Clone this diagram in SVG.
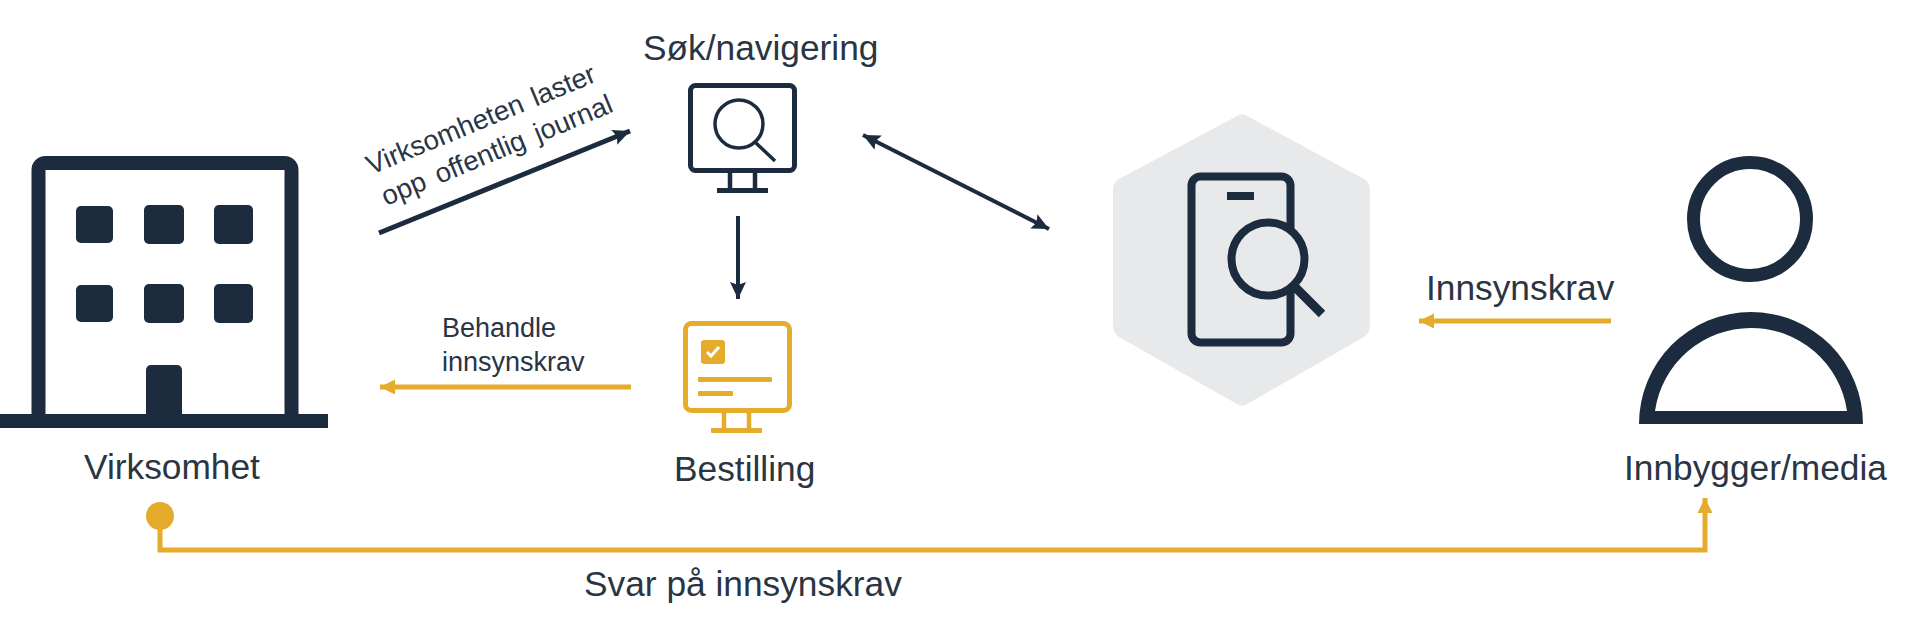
<svg xmlns="http://www.w3.org/2000/svg" width="1920" height="626" viewBox="0 0 1920 626">
<style>
text{font-family:"Liberation Sans",Arial,sans-serif;fill:#2a3544}
.l{font-size:35.300px}.m{font-size:27.500px}.r{font-size:27px}
.d{fill:#1c2b3e}.y{fill:#e5ab2a}
.ds{fill:none;stroke:#1c2b3e}.ys{fill:none;stroke:#e5ab2a}
</style>
<defs>
<marker id="ad" markerUnits="userSpaceOnUse" markerWidth="20" markerHeight="20" refX="17" refY="10" orient="auto-start-reverse" viewBox="0 0 20 20"><path d="M0,2 L17,10 L0,18 L3,10Z" fill="#1c2b3e"/></marker>
<marker id="ay" markerUnits="userSpaceOnUse" markerWidth="20" markerHeight="20" refX="17" refY="10" orient="auto" viewBox="0 0 20 20"><path d="M2,2.500 L17,10 L2,17.500Z" fill="#e5ab2a"/></marker>
</defs>
<rect width="1920" height="626" fill="#fff"/>
<g id="connectors">
<line class="ds" x1="379" y1="233" x2="630" y2="131" stroke-width="5" marker-end="url(#ad)"/>
<line class="ds" x1="738" y1="216" x2="738" y2="299" stroke-width="4" marker-end="url(#ad)"/>
<line class="ds" x1="863" y1="135" x2="1049" y2="229" stroke-width="4" marker-start="url(#ad)" marker-end="url(#ad)"/>
<line class="ys" x1="631" y1="387" x2="380" y2="387" stroke-width="5" marker-end="url(#ay)"/>
<line class="ys" x1="1611" y1="321" x2="1419" y2="321" stroke-width="5" marker-end="url(#ay)"/>
<circle class="y" cx="160" cy="516" r="14"/>
<path class="ys" d="M160,516V550H1705V498" stroke-width="5" marker-end="url(#ay)"/>
<text class="m" transform="translate(371,175) rotate(-22.500)" word-spacing="3">Virksomheten  laster</text>
<text class="m" transform="translate(386,206) rotate(-22.500)" word-spacing="4">opp offentlig journal</text>
<text class="r" x="442" y="337">Behandle</text>
<text class="r" x="442" y="371">innsynskrav</text>
<text class="l" x="1426" y="300">Innsynskrav</text>
<text class="l" x="584" y="596">Svar på innsynskrav</text>
</g>
<g id="virksomhet">
<path class="ds" d="M38.500,420V170a7,7 0 0 1 7,-7H284.500a7,7 0 0 1 7,7V420" stroke-width="14"/>
<rect class="d" x="0" y="414" width="328" height="14"/>
<rect class="d" x="76" y="206" width="37" height="37" rx="5"/>
<rect class="d" x="144" y="205" width="40" height="39" rx="5"/>
<rect class="d" x="214" y="205" width="39" height="39" rx="5"/>
<rect class="d" x="76" y="285" width="37" height="37" rx="5"/>
<rect class="d" x="144" y="284" width="40" height="39" rx="5"/>
<rect class="d" x="214" y="284" width="39" height="39" rx="5"/>
<path class="d" d="M146,416V370a5,5 0 0 1 5,-5H177a5,5 0 0 1 5,5V416Z"/>
<text class="l" x="84" y="479">Virksomhet</text>
</g>
<g id="sok">
<rect class="ds" x="690.500" y="85.500" width="104" height="85" rx="5" stroke-width="5"/>
<circle class="ds" cx="739" cy="124" r="24" stroke-width="3.500"/>
<line class="ds" x1="755" y1="142" x2="775" y2="161" stroke-width="3.500"/>
<path class="ds" d="M730,173V190M755,173V190" stroke-width="4.500"/>
<rect class="d" x="717" y="188" width="51" height="5"/>
<text class="l" x="643" y="60">Søk/navigering</text>
</g>
<g id="bestilling">
<rect class="ys" x="685.500" y="323.500" width="104" height="87" rx="6" stroke-width="5"/>
<rect class="y" x="701" y="340" width="24" height="24" rx="3"/>
<path d="M707,352l4,4l8,-9" fill="none" stroke="#fff" stroke-width="3"/>
<rect class="y" x="698" y="377" width="74" height="5" rx="1"/>
<rect class="y" x="698" y="391" width="35" height="5" rx="1"/>
<path class="ys" d="M724,413V429M749,413V429" stroke-width="4.500"/>
<rect class="y" x="711" y="428" width="51" height="5" rx="1"/>
<text class="l" x="674" y="481">Bestilling</text>
</g>
<g id="app">
<path d="M1236,116.500Q1242,112 1248,116.500L1364,179Q1370,183 1370,190V326Q1370,333 1364,337L1248,403.500Q1242,408 1236,403.500L1119,337Q1113,333 1113,326V190Q1113,183 1119,179Z" fill="#e8e9eb"/>
<rect class="ds" x="1191.500" y="176.500" width="99" height="166" rx="9" stroke-width="8"/>
<rect class="d" x="1227" y="192" width="27" height="8"/>
<circle cx="1268" cy="259" r="36.500" fill="#e8e9eb" stroke="#1c2b3e" stroke-width="8"/>
<line class="ds" x1="1292" y1="284" x2="1322" y2="314" stroke-width="9"/>
</g>
<g id="innbygger">
<circle class="ds" cx="1750" cy="219" r="56.500" stroke-width="13"/>
<path class="d" fill-rule="evenodd" d="M1639,424A112,112 0 0 1 1863,424ZM1655,411H1847A97,97 0 0 0 1655,411Z"/>
<text class="l" x="1624" y="480">Innbygger/media</text>
</g>
</svg>
